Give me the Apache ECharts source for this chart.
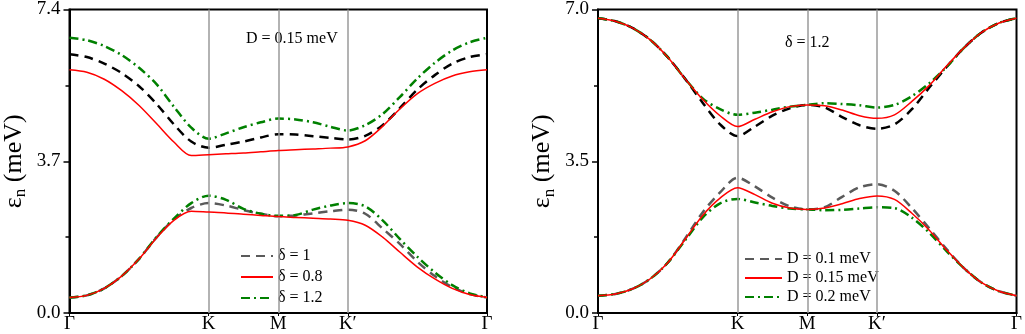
<!DOCTYPE html>
<html>
<head>
<meta charset="utf-8">
<script src="https://cdn.jsdelivr.net/npm/echarts@6/dist/echarts.min.js"></script>
<style>html,body{margin:0;padding:0;background:#fff}#c{width:1025px;height:334px}</style>
</head>
<body>
<div id="c"></div>
<script>
// k-path positions: Γ=0, K=2, M=3, K′=4, Γ=6
const xs = [0,0.25,0.5,0.75,1,1.25,1.5,1.75,2,2.25,2.5,2.75,3,3.25,3.5,3.75,4,4.25,4.5,4.75,5,5.25,5.5,5.75,6];
const tickPos = [0,2,3,4,6];
const tickNames = ['Γ','K','M','K\u2032','Γ'];
const symPoints = [2,3,4];

// Left panel: D = 0.15 meV
const leftUpperD1  = [6.31,6.24,6.08,5.85,5.53,5.10,4.60,4.18,4.03,4.10,4.18,4.28,4.36,4.35,4.31,4.27,4.23,4.32,4.58,5.00,5.45,5.80,6.08,6.24,6.31];
const leftUpperD08 = [5.93,5.87,5.70,5.42,5.06,4.62,4.17,3.84,3.86,3.88,3.90,3.93,3.96,3.98,4.00,4.02,4.05,4.20,4.55,4.98,5.35,5.60,5.78,5.88,5.93];
const leftUpperD12 = [6.71,6.65,6.51,6.29,5.98,5.58,5.03,4.52,4.25,4.38,4.53,4.65,4.74,4.72,4.65,4.54,4.45,4.58,4.85,5.27,5.72,6.10,6.40,6.60,6.71];
const leftLowerD1  = [0.38,0.43,0.60,0.90,1.32,1.84,2.28,2.56,2.68,2.62,2.51,2.42,2.36,2.38,2.43,2.48,2.52,2.42,2.06,1.68,1.25,0.90,0.63,0.46,0.38];
const leftLowerD08 = [0.38,0.43,0.60,0.90,1.32,1.83,2.26,2.48,2.46,2.44,2.41,2.38,2.35,2.33,2.31,2.29,2.26,2.14,1.85,1.48,1.12,0.83,0.60,0.45,0.38];
const leftLowerD12 = [0.38,0.43,0.60,0.90,1.32,1.85,2.30,2.68,2.86,2.76,2.54,2.42,2.37,2.39,2.52,2.62,2.68,2.60,2.26,1.80,1.37,0.99,0.68,0.48,0.38];

// Right panel: δ = 1.2
const rightUpperD01  = [6.80,6.73,6.57,6.30,5.90,5.40,4.85,4.35,4.08,4.30,4.55,4.72,4.80,4.74,4.52,4.33,4.25,4.35,4.70,5.20,5.68,6.12,6.47,6.69,6.80];
const rightUpperD015 = [6.80,6.73,6.57,6.30,5.90,5.40,4.93,4.55,4.30,4.47,4.64,4.76,4.80,4.78,4.68,4.55,4.49,4.57,4.88,5.25,5.70,6.12,6.47,6.69,6.80];
const rightUpperD02  = [6.80,6.73,6.57,6.30,5.90,5.40,4.95,4.70,4.57,4.62,4.69,4.76,4.80,4.84,4.82,4.79,4.74,4.80,5.00,5.30,5.68,6.12,6.47,6.69,6.80];
const rightLowerD01  = [0.40,0.44,0.56,0.79,1.16,1.72,2.32,2.78,3.12,2.92,2.66,2.46,2.39,2.44,2.68,2.90,2.97,2.82,2.42,1.95,1.47,1.03,0.70,0.50,0.40];
const rightLowerD015 = [0.40,0.44,0.56,0.79,1.16,1.70,2.25,2.65,2.89,2.73,2.53,2.42,2.39,2.42,2.52,2.64,2.70,2.62,2.30,1.91,1.45,1.03,0.70,0.50,0.40];
const rightLowerD02  = [0.40,0.44,0.56,0.79,1.16,1.68,2.20,2.53,2.63,2.55,2.47,2.41,2.39,2.37,2.38,2.41,2.44,2.42,2.20,1.85,1.42,1.03,0.70,0.50,0.40];

const leftYTicks = [0, 3.7, 7.4];
const rightYTicks = [0, 3.5, 7.0];

const FONT = 'Liberation Serif';
const RED = '#ff0000', GREEN = '#008000', BLACK = '#000000', GRAY = '#5a5a5a';
const DASH = [9, 6];
const DASHDOT = [9, 4, 2, 4];

function pts(arr){ return xs.map((x,i)=>[x, arr[i]]); }
function line(name, idx, arr, color, type, width, z){
  return {
    type: 'line', name: name, xAxisIndex: idx, yAxisIndex: idx,
    data: pts(arr), symbol: 'none', smooth: 0.3, z: z,
    lineStyle: {color: color, type: type, width: width},
    itemStyle: {color: color}
  };
}
function vlines(idx){
  return {
    type: 'line', xAxisIndex: idx, yAxisIndex: idx, data: [], silent: true, z: 1,
    markLine: {
      symbol: 'none', silent: true, animation: false,
      label: {show: false},
      lineStyle: {color: '#9a9a9a', type: 'solid', width: 1.5},
      data: symPoints.map(v => ({xAxis: v}))
    }
  };
}
function xAxis(idx){
  return {
    type: 'value', gridIndex: idx, min: 0, max: 6,
    axisLine: {show: true, lineStyle: {color: '#000', width: 2}},
    axisTick: {show: true, customValues: tickPos, length: 3, lineStyle: {color: '#000'}},
    axisLabel: {customValues: tickPos, formatter: v => tickNames[tickPos.indexOf(v)] || '', color: '#000',
      fontFamily: FONT, fontSize: 19, margin: 2},
    splitLine: {show: false}
  };
}
function yAxis(idx, ticks){
  return {
    type: 'value', gridIndex: idx, min: ticks[0], max: ticks[2], interval: ticks[1],
    axisLine: {show: true, lineStyle: {color: '#000', width: 2}},
    axisTick: {show: true, length: 6, lineStyle: {color: '#000', width: 1.5}},
    minorTick: {show: true, splitNumber: 2, length: 4, lineStyle: {color: '#000', width: 1.5}},
    axisLabel: {formatter: v => v.toFixed(1), color: '#000', fontFamily: FONT, fontSize: 19, margin: 9},
    splitLine: {show: false},
    name: '{e|ε}{s|n}{e| (meV)}', nameLocation: 'middle', nameGap: 40, nameRotate: 90,
    nameTextStyle: {color: '#000', fontFamily: FONT, fontSize: 25,
      rich: {e: {fontFamily: FONT, fontSize: 26, color: '#000'},
             s: {fontFamily: FONT, fontSize: 17, color: '#000', verticalAlign: 'bottom', padding: [14,0,0,0]}}}
  };
}
const legendCommon = {
  orient: 'vertical', itemHeight: 14, selectedMode: false,
  itemStyle: {opacity: 0, borderWidth: 0},
  textStyle: {fontFamily: FONT, fontSize: 16, color: '#000'}
};

const option = {
  animation: false,
  backgroundColor: '#fff',
  grid: [
    {left: 66, top: 7, width: 421, height: 309, show: true, borderColor: '#000', borderWidth: 2, backgroundColor: 'transparent'},
    {left: 598, top: 7, width: 421, height: 309, show: true, borderColor: '#000', borderWidth: 2, backgroundColor: 'transparent'}
  ],
  xAxis: [xAxis(0), xAxis(1)],
  yAxis: [yAxis(0, leftYTicks), yAxis(1, rightYTicks)],
  legend: [
    Object.assign({}, legendCommon, {data: ['δ = 1', 'δ = 0.8', 'δ = 1.2'], left: 235, top: 243, itemWidth: 32, itemGap: 5}),
    Object.assign({}, legendCommon, {data: ['D = 0.1 meV', 'D = 0.15 meV', 'D = 0.2 meV'], left: 739, top: 246, itemWidth: 37, itemGap: 3})
  ],
  graphic: [
    {type: 'text', left: 246, top: 31, style: {text: 'D = 0.15 meV', fontFamily: FONT, fontSize: 16, fill: '#000'}},
    {type: 'text', left: 785, top: 35, style: {text: 'δ = 1.2', fontFamily: FONT, fontSize: 16, fill: '#000'}}
  ],
  series: [
    vlines(0), vlines(1),
    line('δ = 1', 0, leftLowerD1, GRAY, DASH, 2.5, 3),
    line('δ = 1 upper', 0, leftUpperD1, BLACK, DASH, 2.5, 3),
    line('δ = 0.8', 0, leftLowerD08, RED, 'solid', 1.5, 5),
    line('δ = 0.8 upper', 0, leftUpperD08, RED, 'solid', 1.5, 5),
    line('δ = 1.2', 0, leftLowerD12, GREEN, DASHDOT, 2.5, 4),
    line('δ = 1.2 upper', 0, leftUpperD12, GREEN, DASHDOT, 2.5, 4),
    line('D = 0.1 meV', 1, rightLowerD01, GRAY, DASH, 2.5, 3),
    line('D = 0.1 meV upper', 1, rightUpperD01, BLACK, DASH, 2.5, 3),
    line('D = 0.15 meV', 1, rightLowerD015, RED, 'solid', 1.5, 5),
    line('D = 0.15 meV upper', 1, rightUpperD015, RED, 'solid', 1.5, 5),
    line('D = 0.2 meV', 1, rightLowerD02, GREEN, DASHDOT, 2.5, 4),
    line('D = 0.2 meV upper', 1, rightUpperD02, GREEN, DASHDOT, 2.5, 4)
  ]
};
const chart = echarts.init(document.getElementById('c'), null, {renderer: 'canvas'});
chart.setOption(option);
</script>
</body>
</html>
